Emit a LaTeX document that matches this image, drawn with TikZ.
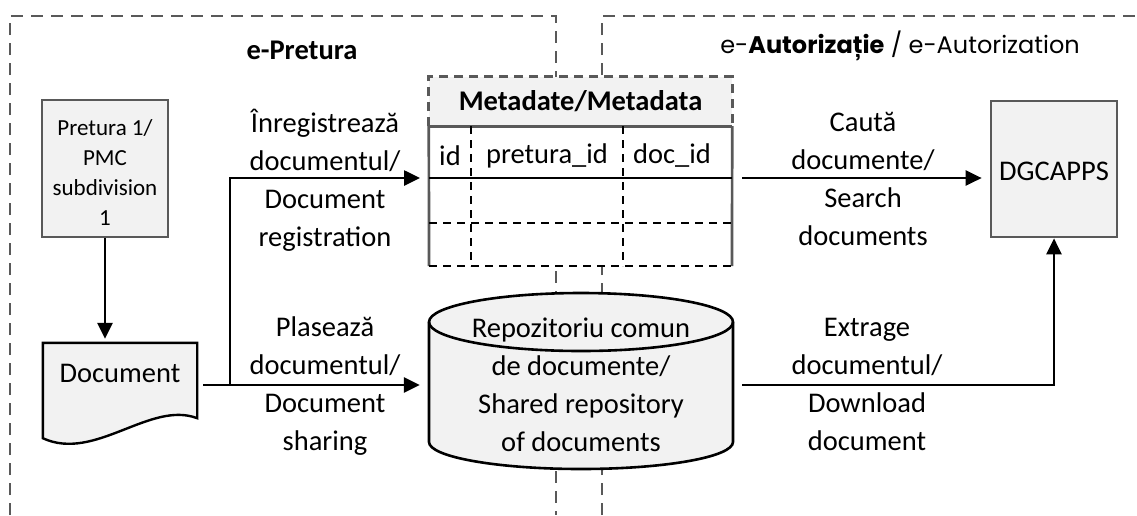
\documentclass[tikz,border=0pt]{standalone}
\usepackage{fontspec}
\setmainfont{Carlito}
\newfontfamily\titlefont{Poppins}
\usetikzlibrary{arrows.meta}
\pgfdeclarelayer{background}
\pgfsetlayers{background,main}
\definecolor{boxgray}{HTML}{F2F2F2}
\definecolor{edgegray}{HTML}{595959}
\definecolor{regiongray}{HTML}{595959}
\begin{document}
\begin{tikzpicture}[x=1pt,y=1pt,
  region/.style={draw=regiongray, line width=2.8pt, dash pattern=on 12pt off 8pt},
  arr/.style={draw=black, line width=2.6pt, -{Triangle[length=16pt,width=15pt]}},
  conn/.style={draw=black, line width=2.6pt},
  procbox/.style={draw=edgegray, fill=boxgray, line width=2.7pt, align=center, inner sep=0pt},
  lbl/.style={align=center, inner sep=0pt, font=\fontsize{28.5}{38}\selectfont},
  celltext/.style={inner sep=0pt, font=\fontsize{28.5}{34}\selectfont},
  tabdash/.style={draw=black, line width=2.5pt, dash pattern=on 8pt off 6pt},
  hdrdash/.style={draw=edgegray, line width=2.7pt, dash pattern=on 9pt off 6pt},
  tabsolid/.style={draw=edgegray, line width=2.7pt},
]
\useasboundingbox (0,0) rectangle (1137,-515);

% titles
\node[font=\bfseries\fontsize{28.5}{34}\selectfont] (tP) at (302,-50) {e-Pretura};
\node[font=\titlefont\fontsize{24}{30}\selectfont] (tA) at (900,-46) {e-\textbf{Autorizație} / e-Autorization};

% process boxes
\node[procbox, minimum width=126pt, minimum height=137pt, font=\fontsize{23}{30}\selectfont] (pret) at (105,-168.5) {\rule{0pt}{24pt}Pretura 1/\\PMC\\subdivision\\1};
\node[procbox, minimum width=126pt, minimum height=136pt, font=\fontsize{28.5}{34}\selectfont] (dgc) at (1054,-169) {\rule{0pt}{24pt}DGCAPPS};

% document
\node[minimum width=154pt, minimum height=60pt, inner sep=0pt, font=\fontsize{28.5}{34}\selectfont] (doc) at (120,-373) {Document};

% repository
\node[lbl, minimum width=304pt, minimum height=150pt] (repo) at (581,-385) {Repozitoriu comun\\de documente/\\Shared repository\\of documents};

% metadata table
\node[fill=boxgray, minimum width=303pt, minimum height=49pt, inner sep=0pt, font=\bfseries\fontsize{28.5}{34}\selectfont] (meta) at (580.5,-101.5) {Metadate/Metadata};
\coordinate (tblBL) at (429,-266);
\coordinate (tblBR) at (732,-266);
\coordinate (rowL) at (429,-178);
\coordinate (rowR) at (732,-178);
\node[celltext] (cid) at (450,-156) {id};
\node[celltext] (cpid) at (547,-156) {pretura\_id};
\node[celltext] (cdoc) at (672,-156) {doc\_id};

\begin{pgfonlayer}{background}
  \draw[region] (10,-515) -- (10,-16) -- (556,-16) -- (556,-515);
  \draw[region] (602,-515) -- (602,-16) -- (1137,-16);
  \fill[white] (meta.south west) rectangle (tblBR);
  \begin{scope}[shift={(repo.center)}]
    \path[fill=boxgray, draw=black, line width=2.6pt] (-152,63) -- (-152,-57)
      arc[start angle=180, end angle=360, x radius=152, y radius=27] -- (152,63)
      arc[start angle=0, end angle=180, x radius=152, y radius=29] -- cycle;
    \draw[line width=2.6pt] (-152,63) arc[start angle=180, end angle=360, x radius=152, y radius=29];
  \end{scope}
  \draw[fill=boxgray, line width=2.4pt] (doc.north west) -- (doc.north east) -- ([yshift=-15pt]doc.south east)
    .. controls ([xshift=-47pt,yshift=3pt]doc.south east) and ([xshift=52pt,yshift=-59pt]doc.south west) .. ([yshift=-35pt]doc.south west) -- cycle;
\end{pgfonlayer}

% table lines
\draw[hdrdash] (meta.south west) -- (meta.north west) -- (meta.north east) -- (meta.south east);
\draw[tabsolid] (meta.south west) -- (meta.south east);
\draw[tabsolid] (meta.south west) -- (tblBL);
\draw[tabsolid] (meta.south east) -- (tblBR);
\draw[conn] (rowL) -- (rowR);
\draw[tabdash] (429,-223) -- (732,-223);
\draw[tabdash] (tblBL) -- (tblBR);
\draw[tabdash] (471,-126) -- (471,-266);
\draw[tabdash] (623,-126) -- (623,-266);

% connectors
\coordinate (j) at (230,-385);
\draw[arr, shorten >=4pt] (pret.south) -- (pret.south |- doc.north);
\draw[conn] ([xshift=6pt]doc.east |- j) -- (j);
\draw[arr, shorten >=9pt] (j) -- (repo.west |- j);
\draw[arr, shorten >=9pt] (j) |- (rowL);
\draw[arr, shorten <=10pt, shorten >=8pt] (rowR) -- (dgc.west |- rowR);
\draw[conn, -{Triangle[length=16pt,width=15pt]}] ([xshift=9pt]repo.east |- j) -| (dgc.south);

% labels
\node[lbl] (l1) at (325,-180) {Înregistrează\\documentul/\\Document\\registration};
\node[lbl] (l2) at (325,-386.5) {Plasează\\documentul/\\Document\\sharing};
\node[lbl] (l3) at (863,-178.5) {Caută\\documente/\\Search\\documents};
\node[lbl] (l4) at (867,-384) {Extrage\\documentul/\\Download\\document};
\end{tikzpicture}
\end{document}
